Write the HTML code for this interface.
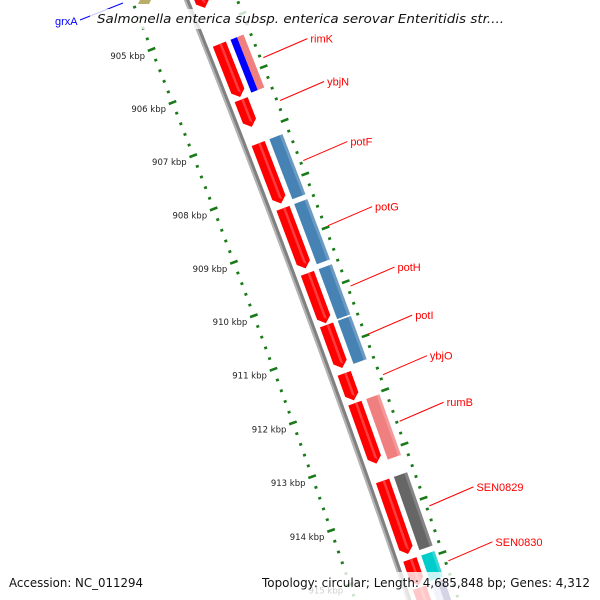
<!DOCTYPE html>
<html><head><meta charset="utf-8"><style>
html,body{margin:0;padding:0;background:#fff;width:600px;height:600px;overflow:hidden}
svg{display:block}
</style></head><body>
<svg id="map" width="600" height="600" viewBox="0 0 600 600" xmlns="http://www.w3.org/2000/svg">
<rect x="0" y="0" width="600" height="600" fill="#fff"/>
<g id="ticks"></g>
<g id="backbone"></g>
<g id="features"></g>
<g id="labels"></g>
<polygon points="140,0 151,0 149,4 138,4" fill="#b8ad6a"/>
<line x1="80" y1="20" x2="123" y2="3" stroke="#0000ff" stroke-width="1"/>
<text x="55" y="25" font-family="Liberation Sans, sans-serif" font-size="11" fill="#0000ff">grxA</text>
<rect x="90" y="9" width="422" height="20" fill="#fff" fill-opacity="0.78"/>
<text x="97" y="23" font-family="DejaVu Sans, sans-serif" font-style="italic" font-size="12.5" fill="#111" textLength="407" lengthAdjust="spacingAndGlyphs">Salmonella enterica subsp. enterica serovar Enteritidis str....</text>
<rect x="0" y="572" width="600" height="28" fill="#fff" fill-opacity="0.78"/>
<text x="9" y="587" font-family="DejaVu Sans, sans-serif" font-size="12" fill="#111" textLength="134" lengthAdjust="spacingAndGlyphs">Accession: NC_011294</text>
<text x="262" y="587" font-family="DejaVu Sans, sans-serif" font-size="12" fill="#111" textLength="328" lengthAdjust="spacingAndGlyphs">Topology: circular; Length: 4,685,848 bp; Genes: 4,312</text>
</svg>
<script>
// Data (kbp)
const strandStarts = [904.30, 905.35, 906.39, 907.21, 908.42, 909.63, 910.59, 911.49, 912.04, 913.48, 914.93, 915.45];
const strandEnds   = [904.67, 906.34, 906.90, 908.33, 909.54, 910.56, 911.39, 911.99, 913.16, 914.83, 915.40, 916.20];
const cogNames  = ['rimK-a','rimK-b','potF','potG','potH','potI','rumB','SEN0829','SEN0830','next-a','next-b'];
const cogStarts = [905.35, 905.35, 907.21, 908.42, 909.63, 910.59, 912.04, 913.48, 914.93, 915.45, 915.45];
const cogEnds   = [906.34, 906.34, 908.33, 909.54, 910.56, 911.39, 913.16, 914.83, 915.40, 916.20, 916.20];
const cogColors = ['#0000ff','#f08080','#4682b4','#4682b4','#4682b4','#4682b4','#f08080','#666666','#00cccc','#c8c8ea','#3c3c8c'];
const cogInner  = [27, 34, 27, 27, 27, 27, 27, 27, 27, 27, 34];
const cogOuter  = [34, 41, 41, 41, 41, 41, 41, 41, 41, 34, 41];
const geneLabels = ['rimK','ybjN','potF','potG','potH','potI','ybjO','rumB','SEN0829','SEN0830'];
const labelPos   = [905.85, 906.65, 907.77, 908.98, 910.10, 910.99, 911.74, 912.60, 914.16, 915.17];
const tickLabelsKbp = [905,906,907,908,909,910,911,912,913,914,915];

const NS='http://www.w3.org/2000/svg';
const R=12000;
const P1=[198,31], P2=[340,406], K1=905, K2=912;
const mx=(P1[0]+P2[0])/2, my=(P1[1]+P2[1])/2;
const L=Math.hypot(P2[0]-P1[0],P2[1]-P1[1]);
const ux=(P2[0]-P1[0])/L, uy=(P2[1]-P1[1])/L;
const nx=uy, ny=-ux;
const h=Math.sqrt(R*R-L*L/4);
const cx=mx-nx*h, cy=my-ny*h;
const t1=Math.atan2(P1[1]-cy,P1[0]-cx), t2=Math.atan2(P2[1]-cy,P2[0]-cx);
function ang(k){return t1+(k-K1)*(t2-t1)/(K2-K1);}
function pt(k,r){const a=ang(k);return [cx+(R+r)*Math.cos(a), cy+(R+r)*Math.sin(a)];}
function ps(arr){return arr.map(p=>p[0].toFixed(2)+','+p[1].toFixed(2)).join(' ');}
function mk(tag,attrs,parent){const e=document.createElementNS(NS,tag);for(const k in attrs)e.setAttribute(k,attrs[k]);parent.appendChild(e);return e;}

// backbone
const bb=document.getElementById('backbone');
const bpts=[];for(let k=904.0;k<=915.9;k+=0.25)bpts.push(pt(k,1));
let bl=mk('polyline',{points:ps(bpts),fill:'none',stroke:'#808080','stroke-width':5},bb);


const bpts2=[];for(let k=904.0;k<=915.9;k+=0.25)bpts2.push(pt(k,-0.5));
let bh=mk('polyline',{points:ps(bpts2),fill:'none',stroke:'#b4b4b4','stroke-width':2},bb);



// ticks
const tg=document.getElementById('ticks');
[-50,48].forEach(function(r){
  for(let i=0;i<=60;i++){
    const k=903.8+i*0.2;
    if(k>915.9)break;
    const major=Math.abs(k-Math.round(k))<0.01;
    const half=major?4:1.5;
    const a=pt(k,r-half), b=pt(k,r+half);
    const ln=mk('line',{x1:a[0],y1:a[1],x2:b[0],y2:b[1],stroke:'#1a7a1a','stroke-width':2.6},tg);
    
    
  }
});
tickLabelsKbp.forEach(function(k){
  const p=pt(k,-57);
  const t=mk('text',{x:p[0].toFixed(1),y:(p[1]+7).toFixed(1),'text-anchor':'end','font-family':'DejaVu Sans, sans-serif','font-size':'8.5',fill:'#222'},tg);
  t.textContent=k+' kbp';
  
  
});

// strand features (red with arrowheads)
const fg=document.getElementById('features');
for(let i=0;i<strandStarts.length;i++){
  const s=strandStarts[i], e=strandEnds[i], ri=8, ro=22, arw=0.11;
  const pts=[pt(s,ri),pt(e-arw,ri),pt(e,(ri+ro)/2),pt(e-arw,ro),pt(s,ro)];
  const g=mk('g',{},fg);
  
  
  mk('polygon',{points:ps(pts),fill:'#ff0000'},g);
  mk('polygon',{points:ps([pt(s,15),pt(e-arw,15),pt(e-arw*0.55,17.5),pt(s,17.5)]),fill:'#ff3c3c'},g);
}
// COG features
for(let i=0;i<cogStarts.length;i++){
  const s=cogStarts[i], e=cogEnds[i], ri=cogInner[i], ro=cogOuter[i];
  const g=mk('g',{},fg);
  
  
  mk('polygon',{points:ps([pt(s,ri),pt(e,ri),pt(e,ro),pt(s,ro)]),fill:cogColors[i]},g);
  if(ro-ri>10){
    mk('polygon',{points:ps([pt(s,ro-3),pt(e,ro-3),pt(e,ro),pt(s,ro)]),fill:'#ffffff','fill-opacity':0.2},g);
  }
}
// labels
const lg=document.getElementById('labels');
for(let i=0;i<geneLabels.length;i++){
  const p=pt(labelPos[i],51);
  const q=[p[0]+44,p[1]-19];
  const ln=mk('line',{x1:p[0],y1:p[1],x2:q[0],y2:q[1],stroke:'#ff0000','stroke-width':1},lg);
  
  
  const t=mk('text',{x:q[0]+3,y:q[1]+4,'font-family':'Liberation Sans, sans-serif','font-size':'11',fill:'#ff0000'},lg);
  t.textContent=geneLabels[i];
  
  
}
</script>
</body></html>
